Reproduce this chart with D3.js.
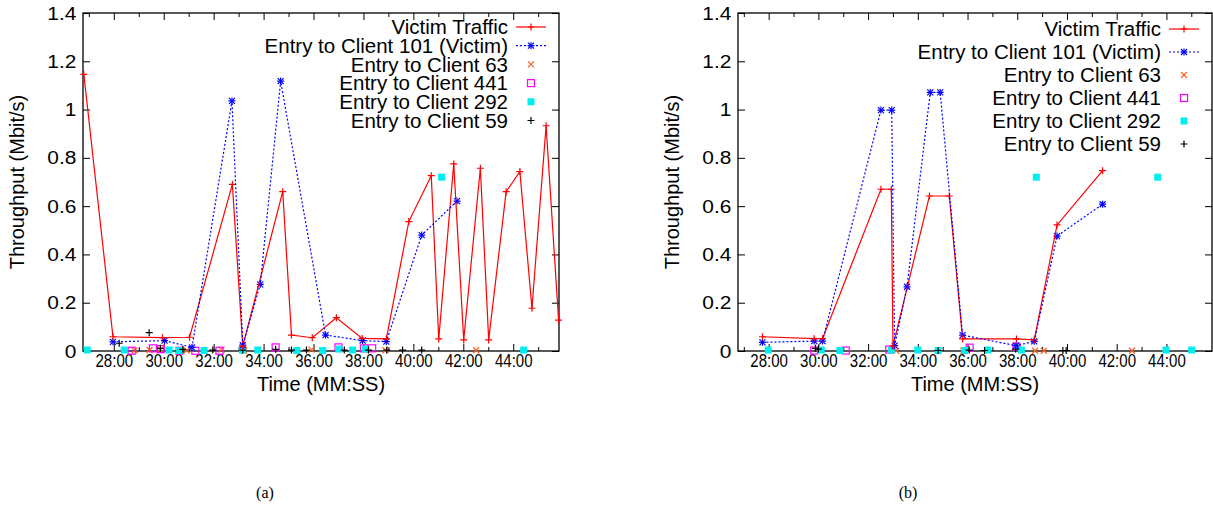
<!DOCTYPE html>
<html>
<head>
<meta charset="utf-8">
<script src="https://cdn.jsdelivr.net/npm/d3@7"></script>
<style>
  body { margin: 0; background: #fff; }
  svg text { font-family: "Liberation Sans", Arial, sans-serif; }
  svg text.caption { font-family: "Liberation Serif", "Times New Roman", serif; }
</style>
</head>
<body>
<svg width="1213" height="508"></svg>
<script>
// time range of both panels (MM:SS)
var timeRange = ["26:46", "45:50"];
var yTicks = [0, 0.2, 0.4, 0.6, 0.8, 1, 1.2, 1.4];
var xTickLabels = ["28:00", "30:00", "32:00", "34:00", "36:00", "38:00", "40:00", "42:00", "44:00"];
var seriesNames = ["Victim Traffic", "Entry to Client 101 (Victim)", "Entry to Client 63",
                   "Entry to Client 441", "Entry to Client 292", "Entry to Client 59"];

// ---- panel (a) ----
var aVictim = [["26:48",1.146],["27:58",0.059],["29:57",0.055],["31:02",0.057],["32:45",0.69],
  ["33:10",0.02],["34:46",0.66],["35:07",0.066],["35:57",0.055],["36:55",0.138],["37:57",0.052],
  ["38:55",0.05],["39:49",0.536],["40:43",0.726],["41:01",0.05],["41:37",0.775],["42:01",0.046],
  ["42:41",0.757],["43:01",0.046],["43:43",0.66],["44:16",0.743],["44:45",0.177],["45:19",0.933],
  ["45:49",0.128]];
var aClient101 = [["27:58",0.038],["30:02",0.043],["31:08",0.015],["32:44",1.036],["33:10",0.024],
  ["33:52",0.276],["34:41",1.118],["36:29",0.066],["37:58",0.043],["38:55",0.039],["40:20",0.48],
  ["41:45",0.621]];
var aClient63 = [["28:50",0.002],["29:26",0.004],["29:52",0.005],["30:55",0.002],["32:19",0.006],
  ["33:13",0.001],["35:55",0.006],["38:53",0.003],["42:31",0.003]];
var aClient441 = [["28:43",0.001],["29:34",0.011],["29:53",0.008],["30:38",0.001],["31:16",0.001],
  ["32:14",0.001],["34:29",0.015],["37:00",0.015],["38:01",0.011],["38:21",0.011]];
var aClient292 = [["26:56",0.004],["28:25",0.004],["30:13",0.004],["30:38",0.002],["31:37",0.002],
  ["33:09",0.004],["33:46",0.004],["35:20",0.002],["36:22",0.002],["37:01",0.008],["37:34",0.004],
  ["38:04",0.008],["41:08",0.72],["44:25",0.004]];
var aClient59 = [["28:13",0.032],["29:25",0.076],["29:52",0.011],["30:46",0.007],["31:58",0.004],
  ["33:10",0.004],["34:29",0.007],["35:07",0.004],["35:43",0.004],["37:14",0.004],["38:12",0.004],
  ["38:56",0.004],["39:34",0.004],["40:20",0.004]];

// ---- panel (b) ----
var bVictim = [["27:45",0.059],["29:50",0.051],["30:10",0.051],["32:31",0.67],["32:56",0.67],
  ["33:00",0.02],["34:28",0.642],["35:16",0.642],["35:48",0.05],["37:58",0.05],["38:41",0.046],
  ["39:36",0.522],["41:26",0.747]];
var bClient101 = [["27:45",0.036],["29:50",0.041],["30:10",0.041],["32:31",0.998],["32:57",0.998],
  ["33:04",0.022],["33:34",0.266],["34:30",1.071],["34:54",1.071],["35:48",0.066],["37:57",0.022],
  ["38:41",0.04],["39:36",0.476],["41:26",0.608]];
var bClient63 = [["33:08",0.001],["35:50",0.001],["38:43",0.001],["39:04",0.001],["42:37",0.001]];
var bClient441 = [["29:50",0.002],["31:06",0.002],["32:51",0.006],["36:05",0.014],["37:58",0.018]];
var bClient292 = [["27:59",0.004],["30:07",0.004],["30:52",0.002],["32:56",0.004],["34:00",0.004],
  ["34:49",0.002],["35:53",0.002],["36:49",0.004],["38:10",0.004],["38:46",0.72],["43:39",0.72],
  ["43:59",0.004],["45:01",0.004]];
var bClient59 = [["29:53",0.011],["30:00",0.008],["34:49",0.002],["36:04",0.004],["36:41",0.002],
  ["37:56",0.008],["39:50",0.002],["39:58",0.002]];

var colors = ["#ff0000", "#0000ff", "#ff5f1f", "#ff00ff", "#00eeee", "#000000"];

function toMin(s) {
  var p = s.split(":");
  return +p[0] + (+p[1]) / 60;
}

var svg = d3.select("svg");
svg.append("rect").attr("width", 1213).attr("height", 508).attr("fill", "#fff");

function marker(g, type, x, y, color) {
  var s = 3.5;
  if (type == "plus" || type == "star") {
    g.append("path").attr("d", "M" + (x - s) + "," + y + "H" + (x + s) + "M" + x + "," + (y - s) + "V" + (y + s))
      .attr("stroke", color).attr("stroke-width", 1.2);
  }
  if (type == "cross" || type == "star") {
    g.append("path").attr("d", "M" + (x - 3) + "," + (y - 3) + "L" + (x + 3) + "," + (y + 3) +
        "M" + (x - 3) + "," + (y + 3) + "L" + (x + 3) + "," + (y - 3))
      .attr("stroke", color).attr("stroke-width", 1.2);
  }
  if (type == "box") {
    g.append("rect").attr("x", x - 3.5).attr("y", y - 3.5).attr("width", 7).attr("height", 7)
      .attr("fill", "none").attr("stroke", color).attr("stroke-width", 1.2);
  }
  if (type == "fbox") {
    g.append("rect").attr("x", x - 3.5).attr("y", y - 3.5).attr("width", 7).attr("height", 7)
      .attr("fill", color);
  }
}

function drawPanel(opt) {
  var x = d3.scaleLinear().domain(timeRange.map(toMin)).range([opt.left, opt.right]);
  var y = d3.scaleLinear().domain([0, 1.4]).range([351, 13]);
  var g = svg.append("g");

  var majors = xTickLabels.map(toMin);
  var minors = d3.range(27, 46).filter(function(m) { return majors.indexOf(m) < 0; });

  // axes (ticks inward, mirrored on top and right)
  var xb = g.append("g").attr("transform", "translate(0,351)")
    .call(d3.axisBottom(x).tickValues(majors).tickSize(-7).tickPadding(4)
      .tickFormat(function(d, i) { return xTickLabels[i]; }));
  xb.selectAll("text").attr("font-size", 17.5).attr("fill", "#000").attr("transform", "scale(0.86,1)");
  g.append("g").attr("transform", "translate(0,351)")
    .call(d3.axisBottom(x).tickValues(minors).tickSize(-4).tickFormat(""));
  g.append("g").attr("transform", "translate(0,13)")
    .call(d3.axisTop(x).tickValues(majors).tickSize(-7).tickFormat(""));
  g.append("g").attr("transform", "translate(0,13)")
    .call(d3.axisTop(x).tickValues(minors).tickSize(-4).tickFormat(""));
  var yl = g.append("g").attr("transform", "translate(" + opt.left + ",0)")
    .call(d3.axisLeft(y).tickValues(yTicks).tickSize(-7).tickPadding(6).tickFormat(d3.format("~g")));
  yl.selectAll("text").attr("font-size", 19).attr("fill", "#000").attr("transform", "scale(1.1,1)");
  g.append("g").attr("transform", "translate(" + opt.right + ",0)")
    .call(d3.axisRight(y).tickValues(yTicks).tickSize(-7).tickFormat(""));
  g.selectAll(".domain").remove();
  g.selectAll(".tick line").attr("stroke", "#000");

  g.append("rect").attr("x", opt.left).attr("y", 13)
    .attr("width", opt.right - opt.left).attr("height", 338)
    .attr("fill", "none").attr("stroke", "#000").attr("stroke-width", 1.3);

  // axis titles
  g.append("text").attr("x", (opt.left + opt.right) / 2).attr("y", 391)
    .attr("text-anchor", "middle").attr("font-size", 20).text("Time (MM:SS)");
  g.append("text").attr("transform", "translate(" + (opt.left - 59) + ",182) rotate(-90)")
    .attr("text-anchor", "middle").attr("font-size", 20).text("Throughput (Mbit/s)");
  g.append("text").attr("class", "caption").attr("x", opt.capX).attr("y", 498)
    .attr("text-anchor", "middle").attr("font-size", 16).text(opt.caption);

  // series
  var line = d3.line().x(function(d) { return x(toMin(d[0])); }).y(function(d) { return y(d[1]); });
  var pts = g.append("g");
  g.append("path").datum(opt.victim).attr("d", line).attr("fill", "none")
    .attr("stroke", colors[0]).attr("stroke-width", 1.2);
  g.append("path").datum(opt.c101).attr("d", line).attr("fill", "none")
    .attr("stroke", colors[1]).attr("stroke-width", 1.2).attr("stroke-dasharray", "2,2");

  var sets = [[opt.c63, "cross", 2], [opt.c441, "box", 3], [opt.c292, "fbox", 4], [opt.c59, "plus", 5],
              [opt.c101, "star", 1], [opt.victim, "plus", 0]];
  sets.forEach(function(s) {
    s[0].forEach(function(d) {
      marker(pts, s[1], x(toMin(d[0])), y(d[1]), colors[s[2]]);
    });
  });

  // legend
  var types = ["plus", "star", "cross", "box", "fbox", "plus"];
  seriesNames.forEach(function(name, i) {
    var ly = opt.legTop + i * opt.legStep;
    g.append("text").attr("x", opt.legX).attr("y", ly).attr("dy", "0.35em")
      .attr("text-anchor", "end").attr("font-size", 20.5).text(name);
    if (i < 2) {
      g.append("line").attr("x1", opt.legX + 8).attr("x2", opt.legX + 38)
        .attr("y1", ly).attr("y2", ly).attr("stroke", colors[i]).attr("stroke-width", 1.2)
        .attr("stroke-dasharray", i == 1 ? "2,2" : null);
    }
    marker(g, types[i], opt.legX + 23, ly, colors[i]);
  });
}

drawPanel({ left: 83, right: 559, victim: aVictim, c101: aClient101, c63: aClient63,
  c441: aClient441, c292: aClient292, c59: aClient59, legX: 508, legTop: 27, legStep: 18.7,
  capX: 265, caption: "(a)" });
drawPanel({ left: 738, right: 1212, victim: bVictim, c101: bClient101, c63: bClient63,
  c441: bClient441, c292: bClient292, c59: bClient59, legX: 1161, legTop: 29, legStep: 23,
  capX: 908, caption: "(b)" });
</script>
</body>
</html>
